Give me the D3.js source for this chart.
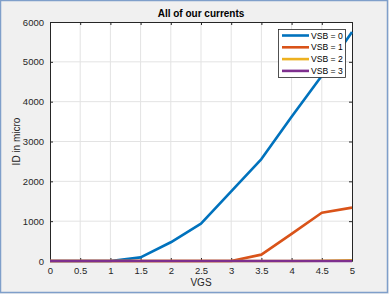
<!DOCTYPE html>
<html>
<head>
<meta charset="utf-8">
<script src="https://cdn.jsdelivr.net/npm/d3@7"></script>
<style>
  body { margin: 0; background: #fff; }
  svg { display: block; font-family: Arial, "Liberation Sans", sans-serif; }
</style>
</head>
<body>
<svg width="389" height="294"></svg>
<script>
const vgs = [0, 0.5, 1, 1.5, 2, 2.5, 3, 3.5, 4, 4.5, 5];
const id0 = [0, 0, 0, 90, 470, 940, 1750, 2560, 3620, 4650, 5750];
const id1 = [0, 0, 0, 0, 0, 0, 0, 160, 680, 1210, 1340];
const id2 = [0, 0, 0, 0, 0, 0, 0, 0, 0, 5, 15];
const id3 = [0, 0, 0, 0, 0, 0, 0, 0, 0, 0, 0];
const seriesNames = ["VSB = 0", "VSB = 1", "VSB = 2", "VSB = 3"];
const seriesColors = ["#0072BD", "#D95319", "#EDB120", "#7E2F8E"];
const xTicks = [0, 0.5, 1, 1.5, 2, 2.5, 3, 3.5, 4, 4.5, 5];
const yTicks = [0, 1000, 2000, 3000, 4000, 5000, 6000];

const svg = d3.select("svg");
const W = 389, H = 294;
const m = { left: 50, right: 37, top: 22, bottom: 33 };

// figure background + frame
svg.append("rect").attr("width", W).attr("height", H).attr("fill", "#f0f0f0");
svg.append("rect").attr("x", 0.5).attr("y", 0.5).attr("width", W - 2).attr("height", H - 2)
  .attr("fill", "none").attr("stroke", "#7f9fca").attr("stroke-width", 1.5);

const x = d3.scaleLinear().domain([0, 5]).range([m.left, W - m.right]);
const y = d3.scaleLinear().domain([0, 6000]).range([H - m.bottom, m.top]);

svg.append("rect").attr("x", x(0)).attr("y", y(6000))
  .attr("width", x(5) - x(0)).attr("height", y(0) - y(6000)).attr("fill", "#fff");

// grid
svg.append("g").selectAll("line").data(xTicks.slice(1, -1)).enter().append("line")
  .attr("x1", d => x(d)).attr("x2", d => x(d)).attr("y1", y(0)).attr("y2", y(6000))
  .attr("stroke", "#e3e3e3").attr("stroke-width", 1);
svg.append("g").selectAll("line").data(yTicks.slice(1, -1)).enter().append("line")
  .attr("y1", d => y(d)).attr("y2", d => y(d)).attr("x1", x(0)).attr("x2", x(5))
  .attr("stroke", "#e3e3e3").attr("stroke-width", 1);

// axes (ticks inside, matlab box style)
const axColor = "#262626";
const xAxis = svg.append("g").attr("transform", "translate(0," + y(0) + ")")
  .call(d3.axisBottom(x).tickValues(xTicks).tickSizeInner(-3).tickSizeOuter(0).tickPadding(6)
    .tickFormat(d => d));
const xAxisTop = svg.append("g").attr("transform", "translate(0," + y(6000) + ")")
  .call(d3.axisTop(x).tickValues(xTicks).tickSizeInner(-3).tickSizeOuter(0).tickFormat(""));
const yAxis = svg.append("g").attr("transform", "translate(" + x(0) + ",0)")
  .call(d3.axisLeft(y).tickValues(yTicks).tickSizeInner(-3).tickSizeOuter(0).tickPadding(6)
    .tickFormat(d3.format("d")));
const yAxisR = svg.append("g").attr("transform", "translate(" + x(5) + ",0)")
  .call(d3.axisRight(y).tickValues(yTicks).tickSizeInner(-3).tickSizeOuter(0).tickFormat(""));
[xAxis, xAxisTop, yAxis, yAxisR].forEach(g => {
  g.select(".domain").attr("stroke", axColor);
  g.selectAll(".tick line").attr("stroke", axColor);
  g.selectAll("text").attr("fill", axColor).style("font-size", "9.5px").style("font-family", "Arial, 'Liberation Sans', sans-serif");
});

// lines
const allSeries = [id0, id1, id2, id3];
const line = d3.line().x((d, i) => x(vgs[i])).y(d => y(d));
svg.append("g").selectAll("path").data(allSeries).enter().append("path")
  .attr("d", d => line(d))
  .attr("fill", "none")
  .attr("stroke", (d, i) => seriesColors[i])
  .attr("stroke-width", 2.6)
  .attr("stroke-linejoin", "round");

// title and labels
svg.append("text").attr("x", (x(0) + x(5)) / 2).attr("y", 17)
  .attr("text-anchor", "middle").style("font-size", "10px").style("font-weight", "bold")
  .attr("fill", "#000").text("All of our currents");
svg.append("text").attr("x", (x(0) + x(5)) / 2).attr("y", 286)
  .attr("text-anchor", "middle").style("font-size", "10px").attr("fill", axColor).text("VGS");
svg.append("text").attr("transform", "translate(20," + (y(3000)) + ") rotate(-90)")
  .attr("text-anchor", "middle").style("font-size", "10px").attr("fill", axColor).text("ID in micro");

// legend
const lg = svg.append("g").attr("transform", "translate(278,29)");
lg.append("rect").attr("x", 0.5).attr("y", 0.5).attr("width", 67).attr("height", 48)
  .attr("fill", "#fff").attr("stroke", axColor).attr("stroke-width", 0.8);
const items = lg.selectAll("g.item").data(seriesNames).enter().append("g")
  .attr("class", "item").attr("transform", (d, i) => "translate(0," + (6.5 + i * 11.8) + ")");
items.append("line").attr("x1", 4).attr("x2", 31).attr("y1", 0).attr("y2", 0)
  .attr("stroke", (d, i) => seriesColors[i]).attr("stroke-width", 2.6);
items.append("text").attr("x", 33).attr("y", 3).style("font-size", "8.6px")
  .attr("fill", "#000").text(d => d);
</script>
</body>
</html>
